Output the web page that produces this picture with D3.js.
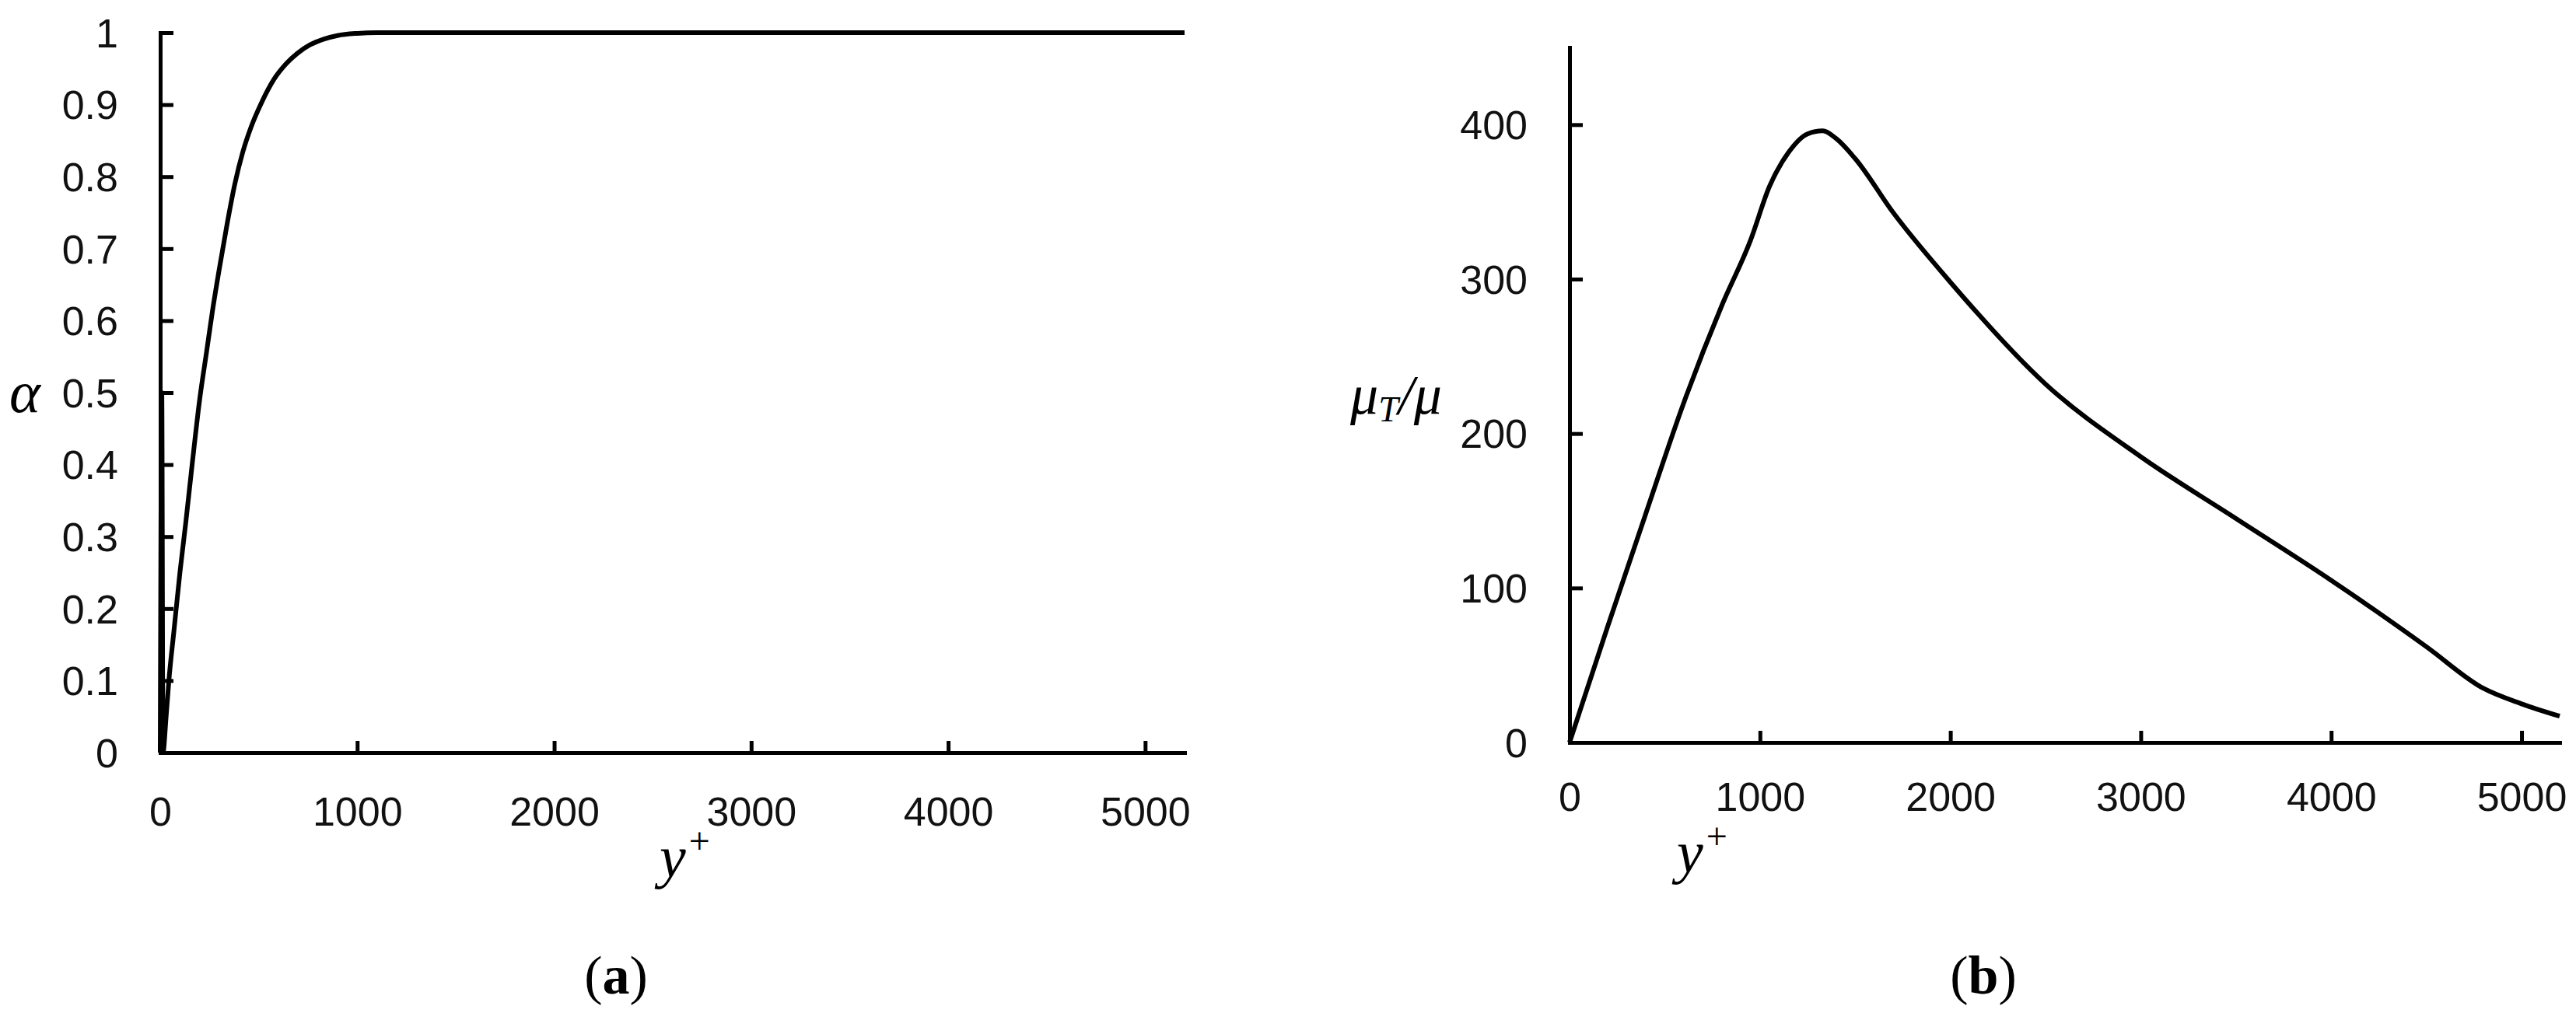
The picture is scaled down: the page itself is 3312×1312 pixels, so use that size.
<!DOCTYPE html>
<html><head><meta charset="utf-8">
<script src="https://cdn.jsdelivr.net/npm/d3@7"></script>
<style>
html,body{margin:0;padding:0;background:#fff;}
svg{display:block;}
</style></head>
<body>
<script>
// ---- Data ----
// Panel (a): alpha vs y+
const alphaYPlus = [0, 8, 14, 30, 44, 70, 100, 130, 162, 200, 235, 265, 300, 340, 379, 420, 460, 513, 577, 640, 695, 760, 830, 900, 1000, 1100, 1500, 2000, 3000, 4000, 5200];
const alphaVals  = [0, 0.5, 0, 0.05, 0.1, 0.17, 0.25, 0.32, 0.40, 0.49, 0.556, 0.613, 0.672, 0.735, 0.79, 0.835, 0.868, 0.902, 0.935, 0.957, 0.971, 0.983, 0.991, 0.996, 0.999, 1, 1, 1, 1, 1, 1];
// Panel (b): mu_T/mu vs y+
const muYPlus = [0, 200, 400, 600, 800, 950, 1050, 1150, 1250, 1330, 1400, 1500, 1700, 2000, 2500, 3000, 3500, 4000, 4500, 4800, 5000, 5200];
const muVals  = [0, 75, 148, 220, 283, 325, 360, 382, 394, 396, 391, 378, 343, 298, 232, 185, 145, 105, 62, 35, 25, 17];
// Ticks
const aXTicks = [0, 1000, 2000, 3000, 4000, 5000];
const aYTicks = [0, 0.1, 0.2, 0.3, 0.4, 0.5, 0.6, 0.7, 0.8, 0.9, 1];
const aYTickLabels = ["0", "0.1", "0.2", "0.3", "0.4", "0.5", "0.6", "0.7", "0.8", "0.9", "1"];
const bXTicks = [0, 1000, 2000, 3000, 4000, 5000];
const bYTicks = [0, 100, 200, 300, 400];
const captions = ["a", "b"];

const W = 3312, H = 1312;
const svg = d3.select("body").append("svg").attr("width", W).attr("height", H);

function panel(cfg) {
  const x = d3.scaleLinear().domain(cfg.xDomain).range([cfg.x0, cfg.x1]);
  const y = d3.scaleLinear().domain(cfg.yDomain).range([cfg.y0, cfg.y1]);
  const g = svg.append("g");

  const ax = g.append("g").attr("transform", `translate(0,${cfg.y0})`)
    .call(d3.axisBottom(x).tickValues(cfg.xTicks).tickSizeInner(-15).tickSizeOuter(0)
      .tickPadding(cfg.xPad).tickFormat(d3.format("d")));
  const ay = g.append("g").attr("transform", `translate(${cfg.x0},0)`)
    .call(d3.axisLeft(y).tickValues(cfg.yTicks).tickSizeInner(-17).tickSizeOuter(0)
      .tickPadding(54).tickFormat((d, i) => cfg.yLabels ? cfg.yLabels[i] : d3.format("d")(d)));
  [ax, ay].forEach(a => {
    a.select(".domain").attr("stroke", "#000").attr("stroke-width", 5).attr("stroke-linecap", "square");
    a.selectAll(".tick line").attr("stroke", "#000").attr("stroke-width", 5);
    a.selectAll("text").attr("font-family", "Liberation Sans, Arial, sans-serif")
      .attr("font-size", 52).attr("fill", "#111");
  });
  ay.selectAll("text").attr("dy", "0.35em");

  const pts = cfg.xs.map((v, i) => [v, cfg.ys[i]]);
  const lineGen = d3.line().x(d => x(d[0])).y(d => y(d[1])).curve(d3.curveMonotoneX);
  g.append("path").datum(pts).attr("d", lineGen).attr("fill", "none")
    .attr("stroke", "#000").attr("stroke-width", 6).attr("stroke-linejoin", "round");
  return {x, y, g};
}

panel({
  xDomain: [0, 5200], yDomain: [0, 1], x0: 206, x1: 1523, y0: 968, y1: 42,
  xTicks: aXTicks, yTicks: aYTicks, yLabels: aYTickLabels, xPad: 57,
  xs: alphaYPlus, ys: alphaVals
});
panel({
  xDomain: [0, 5200], yDomain: [0, 450], x0: 2018, x1: 3291, y0: 955, y1: 61,
  xTicks: bXTicks, yTicks: bYTicks, xPad: 51,
  xs: muYPlus, ys: muVals
});

// Axis titles
const serif = "Liberation Serif, Times New Roman, serif";
svg.append("text").attr("x", 12).attr("y", 530).attr("font-family", serif)
  .attr("font-style", "italic").attr("font-size", 76).text("α");

function yplus(xc, yb) {
  const t = svg.append("text").attr("x", xc).attr("y", yb).attr("font-family", serif).attr("font-size", 76);
  t.append("tspan").attr("font-style", "italic").text("y");
  t.append("tspan").attr("font-size", 48).attr("dy", -30).attr("dx", 4).text("+");
}
yplus(848, 1128);
yplus(2156, 1122);

const mt = svg.append("text").attr("x", 1736).attr("y", 532).attr("font-family", serif).attr("font-size", 72);
mt.append("tspan").attr("font-style", "italic").text("μ");
mt.append("tspan").attr("font-style", "italic").attr("font-size", 46).attr("dy", 10).text("T");
mt.append("tspan").attr("dy", -10).attr("font-style", "italic").text("/μ");

// Captions
[[792, captions[0]], [2550, captions[1]]].forEach(([cx, c]) => {
  const t = svg.append("text").attr("x", cx).attr("y", 1278).attr("text-anchor", "middle")
    .attr("font-family", serif).attr("font-size", 70);
  t.append("tspan").text("(");
  t.append("tspan").attr("font-weight", "bold").text(c);
  t.append("tspan").text(")");
});
</script>
</body></html>
